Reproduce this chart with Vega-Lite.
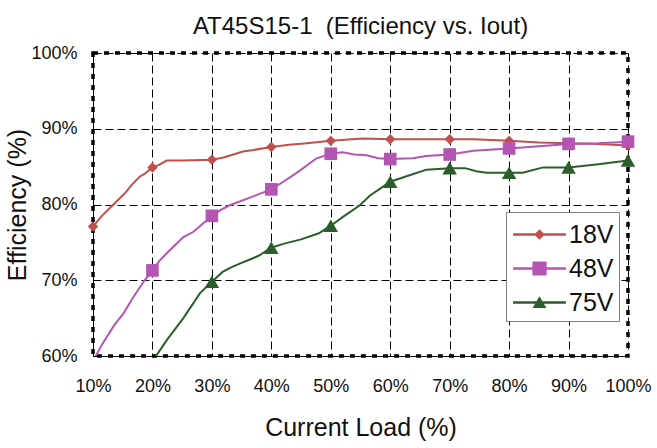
{
  "$schema": "https://vega.github.io/schema/vega-lite/v6.json",
  "width": 535,
  "height": 303,
  "autosize": {"type": "none"},
  "padding": {"left": 93, "top": 53, "right": 29, "bottom": 92},
  "background": "white",
  "title": {
    "text": "AT45S15-1 \u00a0(Efficiency vs. Iout)",
    "font": "Liberation Sans",
    "fontSize": 24,
    "fontWeight": "normal",
    "color": "#111111",
    "anchor": "middle",
    "baseline": "alphabetic",
    "offset": 15,
    "dy": 29
  },
  "config": {
    "view": {"stroke": "#000000", "strokeWidth": 3.5, "strokeDash": [5, 6]},
    "axis": {
      "labelFont": "Liberation Sans",
      "labelFontSize": 18,
      "labelColor": "#111111",
      "labelOverlap": false,
      "labelFlush": false,
      "titleFont": "Liberation Sans",
      "titleFontSize": 25,
      "titleFontWeight": "normal",
      "titleColor": "#111111",
      "gridColor": "#000000",
      "gridDash": [8, 4],
      "gridWidth": 1,
      "gridOpacity": 1,
      "domainColor": "#000000",
      "domainWidth": 1,
      "ticks": false
    }
  },
  "data": {
    "values": [
      {"series": "18V", "load": 10, "eff": 77.1},
      {"series": "18V", "load": 11.5, "eff": 78.5},
      {"series": "18V", "load": 13.7, "eff": 80.2},
      {"series": "18V", "load": 15.5, "eff": 81.6},
      {"series": "18V", "load": 16.5, "eff": 82.6},
      {"series": "18V", "load": 17.9, "eff": 83.7},
      {"series": "18V", "load": 18.6, "eff": 84.0},
      {"series": "18V", "load": 20, "eff": 84.9},
      {"series": "18V", "load": 21, "eff": 85.2},
      {"series": "18V", "load": 22.4, "eff": 85.8},
      {"series": "18V", "load": 25, "eff": 85.8},
      {"series": "18V", "load": 30, "eff": 85.9},
      {"series": "18V", "load": 32, "eff": 86.2},
      {"series": "18V", "load": 35.2, "eff": 87.0},
      {"series": "18V", "load": 37, "eff": 87.2},
      {"series": "18V", "load": 40, "eff": 87.6},
      {"series": "18V", "load": 43, "eff": 87.9},
      {"series": "18V", "load": 46, "eff": 88.1},
      {"series": "18V", "load": 50, "eff": 88.4},
      {"series": "18V", "load": 55.4, "eff": 88.7},
      {"series": "18V", "load": 60, "eff": 88.6},
      {"series": "18V", "load": 65, "eff": 88.6},
      {"series": "18V", "load": 70, "eff": 88.6},
      {"series": "18V", "load": 74, "eff": 88.6},
      {"series": "18V", "load": 80, "eff": 88.4},
      {"series": "18V", "load": 85, "eff": 88.2},
      {"series": "18V", "load": 90, "eff": 88.1},
      {"series": "18V", "load": 95, "eff": 88.0},
      {"series": "18V", "load": 100, "eff": 87.8},
      {"series": "48V", "load": 10, "eff": 59.3},
      {"series": "48V", "load": 11.5, "eff": 61.5},
      {"series": "48V", "load": 13.6, "eff": 64.1},
      {"series": "48V", "load": 15.1, "eff": 65.6},
      {"series": "48V", "load": 16.8, "eff": 67.8},
      {"series": "48V", "load": 18.5, "eff": 69.8},
      {"series": "48V", "load": 20, "eff": 71.3},
      {"series": "48V", "load": 21.2, "eff": 72.6},
      {"series": "48V", "load": 22.7, "eff": 73.8},
      {"series": "48V", "load": 25.2, "eff": 75.7},
      {"series": "48V", "load": 26.9, "eff": 76.4},
      {"series": "48V", "load": 28.5, "eff": 77.5},
      {"series": "48V", "load": 30, "eff": 78.5},
      {"series": "48V", "load": 31.5, "eff": 79.3},
      {"series": "48V", "load": 33, "eff": 79.9},
      {"series": "48V", "load": 36.4, "eff": 80.9},
      {"series": "48V", "load": 38, "eff": 81.4},
      {"series": "48V", "load": 40, "eff": 82.0},
      {"series": "48V", "load": 42, "eff": 83.0},
      {"series": "48V", "load": 44.5, "eff": 84.3},
      {"series": "48V", "load": 47.6, "eff": 86.1},
      {"series": "48V", "load": 50, "eff": 86.7},
      {"series": "48V", "load": 52, "eff": 86.9},
      {"series": "48V", "load": 54, "eff": 86.6},
      {"series": "48V", "load": 56, "eff": 86.5},
      {"series": "48V", "load": 58, "eff": 86.1},
      {"series": "48V", "load": 60, "eff": 86.0},
      {"series": "48V", "load": 63.8, "eff": 86.1},
      {"series": "48V", "load": 66, "eff": 86.4},
      {"series": "48V", "load": 70, "eff": 86.6},
      {"series": "48V", "load": 74, "eff": 87.1},
      {"series": "48V", "load": 80, "eff": 87.4},
      {"series": "48V", "load": 85, "eff": 87.7},
      {"series": "48V", "load": 90, "eff": 88.0},
      {"series": "48V", "load": 95, "eff": 88.1},
      {"series": "48V", "load": 100, "eff": 88.3},
      {"series": "75V", "load": 20, "eff": 59.3},
      {"series": "75V", "load": 22.5, "eff": 62.2},
      {"series": "75V", "load": 25.2, "eff": 65.0},
      {"series": "75V", "load": 28, "eff": 68.3},
      {"series": "75V", "load": 30, "eff": 69.8},
      {"series": "75V", "load": 31.8, "eff": 71.1},
      {"series": "75V", "load": 33.5, "eff": 71.8},
      {"series": "75V", "load": 35, "eff": 72.3},
      {"series": "75V", "load": 36.9, "eff": 72.9},
      {"series": "75V", "load": 38, "eff": 73.3},
      {"series": "75V", "load": 40, "eff": 74.3},
      {"series": "75V", "load": 42, "eff": 74.8},
      {"series": "75V", "load": 45, "eff": 75.4},
      {"series": "75V", "load": 48, "eff": 76.2},
      {"series": "75V", "load": 50, "eff": 77.2},
      {"series": "75V", "load": 52.1, "eff": 78.4},
      {"series": "75V", "load": 54.9, "eff": 79.9},
      {"series": "75V", "load": 56.6, "eff": 81.2},
      {"series": "75V", "load": 58.3, "eff": 82.1},
      {"series": "75V", "load": 60, "eff": 83.0},
      {"series": "75V", "load": 63, "eff": 83.8},
      {"series": "75V", "load": 66.1, "eff": 84.6},
      {"series": "75V", "load": 70, "eff": 84.8},
      {"series": "75V", "load": 72.6, "eff": 84.8},
      {"series": "75V", "load": 74.5, "eff": 84.4},
      {"series": "75V", "load": 76.2, "eff": 84.2},
      {"series": "75V", "load": 80, "eff": 84.2},
      {"series": "75V", "load": 82.3, "eff": 84.2},
      {"series": "75V", "load": 85.7, "eff": 84.9},
      {"series": "75V", "load": 90, "eff": 84.9},
      {"series": "75V", "load": 95, "eff": 85.3},
      {"series": "75V", "load": 100, "eff": 85.8}
    ]
  },
  "encoding": {
    "x": {
      "field": "load",
      "type": "quantitative",
      "scale": {"domain": [10, 100], "nice": false, "zero": false},
      "axis": {
        "title": "Current Load (%)",
        "values": [10, 20, 30, 40, 50, 60, 70, 80, 90, 100],
        "labelExpr": "datum.value + '%'",
        "labelPadding": 21,
        "titlePadding": 20,
        "grid": true
      }
    },
    "y": {
      "field": "eff",
      "type": "quantitative",
      "scale": {"domain": [60, 100], "nice": false, "zero": false},
      "axis": {
        "title": "Efficiency (%)",
        "values": [60, 70, 80, 90, 100],
        "labelExpr": "datum.value + '%'",
        "labelPadding": 16,
        "titlePadding": 0,
        "grid": true
      }
    }
  },
  "resolve": {"scale": {"shape": "independent", "color": "independent", "size": "independent"}},
  "layer": [
    {
      "mark": {"type": "line", "strokeWidth": 2, "clip": true},
      "encoding": {
        "order": {"field": "load", "type": "quantitative"},
        "color": {
          "field": "series",
          "type": "nominal",
          "scale": {"domain": ["18V", "48V", "75V"], "range": ["#c0504d", "#b455b4", "#2b5e2b"]},
          "legend": null
        }
      }
    },
    {
      "transform": [{"filter": "datum.load % 10 === 0 && datum.eff >= 60"}],
      "mark": {"type": "point", "filled": true, "opacity": 1},
      "encoding": {
        "color": {
          "field": "series",
          "type": "nominal",
          "scale": {"domain": ["18V", "48V", "75V"], "range": ["#c0504d", "#b455b4", "#2b5e2b"]},
          "legend": null
        },
        "shape": {
          "field": "series",
          "type": "nominal",
          "scale": {"domain": ["18V", "48V", "75V"], "range": ["diamond", "square", "triangle-up"]},
          "legend": null
        },
        "size": {
          "field": "series",
          "type": "nominal",
          "scale": {"domain": ["18V", "48V", "75V"], "range": [110, 210, 170]},
          "legend": null
        }
      }
    },
    {
      "transform": [{"filter": "datum.load === 100"}],
      "mark": {"type": "point", "filled": true, "opacity": 0, "size": 1089},
      "encoding": {
        "color": {
          "field": "series",
          "type": "nominal",
          "scale": {"domain": ["18V", "48V", "75V"], "range": ["#c0504d", "#b455b4", "#2b5e2b"]},
          "legend": {
            "title": null,
            "orient": "none",
            "legendX": 413,
            "legendY": 159,
            "strokeColor": "#808080",
            "fillColor": "#ffffff",
            "padding": 5,
            "rowPadding": 3,
            "symbolSize": 1089,
            "symbolOffset": 11,
            "symbolOpacity": 1,
            "labelOffset": 12,
            "labelFont": "Liberation Sans",
            "labelFontSize": 25,
            "labelColor": "#111111"
          }
        },
        "shape": {
          "field": "series",
          "type": "nominal",
          "scale": {
            "domain": ["18V", "48V", "75V"],
            "range": [
              "M-1.6,-0.07H1.6V0.07H-1.6ZM-0.32,0L0,-0.32L0.32,0L0,0.32Z",
              "M-1.6,-0.07H1.6V0.07H-1.6ZM-0.43,-0.43H0.43V0.43H-0.43Z",
              "M-1.6,-0.07H1.6V0.07H-1.6ZM0,-0.38L0.42,0.34H-0.42Z"
            ]
          },
          "legend": {
            "title": null,
            "orient": "none",
            "legendX": 413,
            "legendY": 159,
            "strokeColor": "#808080",
            "fillColor": "#ffffff",
            "padding": 5,
            "rowPadding": 3,
            "symbolSize": 1089,
            "symbolOffset": 11,
            "symbolOpacity": 1,
            "labelOffset": 12,
            "labelFont": "Liberation Sans",
            "labelFontSize": 25,
            "labelColor": "#111111"
          }
        }
      }
    }
  ]
}
